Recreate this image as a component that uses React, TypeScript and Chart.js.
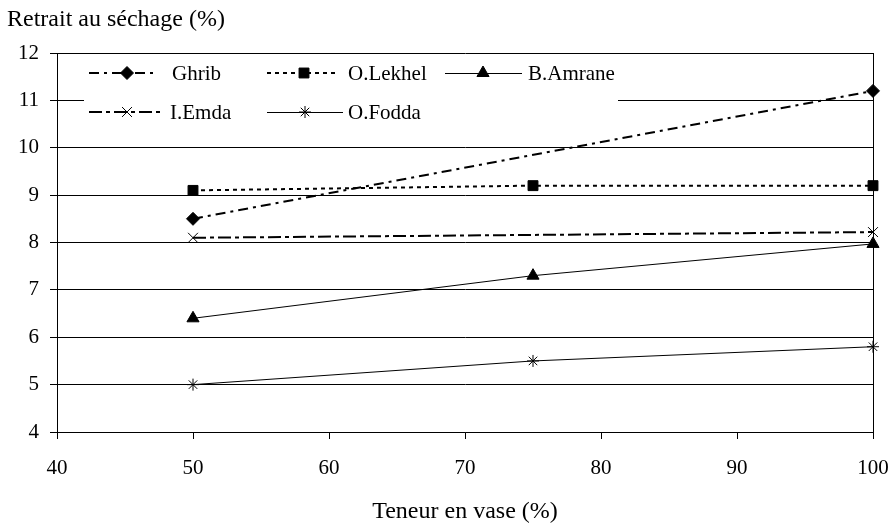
import React, { useEffect, useRef } from 'react';
import { Chart, registerables } from 'chart.js';
import { drawPoint } from 'chart.js/helpers';

Chart.register(...registerables);

const yTitle = 'Retrait au séchage (%)';
const xTitle = 'Teneur en vase (%)';

const seriesNames = ['Ghrib', 'O.Lekhel', 'B.Amrane', 'I.Emda', 'O.Fodda'];

const ghribX = [50, 100];
const ghribY = [8.5, 11.2];
const lekhelX = [50, 75, 100];
const lekhelY = [9.1, 9.2, 9.2];
const amraneX = [50, 75, 100];
const amraneY = [6.4, 7.3, 7.97];
const emdaX = [50, 100];
const emdaY = [8.1, 8.22];
const foddaX = [50, 75, 100];
const foddaY = [5.0, 5.5, 5.8];

const xMin = 40, xMax = 100, xStep = 10;
const yMin = 4, yMax = 12, yStep = 1;

const FONT = '"Liberation Serif", "Times New Roman", serif';

const styles = [
  { pointStyle: 'rectRot', radius: 6.5, width: 2, dash: [10, 5, 3, 5] },
  { pointStyle: 'rect', radius: 7, width: 2, dash: [4, 4] },
  { pointStyle: 'triangle', radius: 7, width: 1, dash: [] as number[] },
  { pointStyle: 'crossRot', radius: 7, width: 2, dash: [13, 4, 4, 4] },
  { pointStyle: 'star', radius: 6, width: 1, dash: [] as number[] },
];

const toPts = (xs: number[], ys: number[]) => xs.map((x, i) => ({ x, y: ys[i] }));

const legendItems = [
  { idx: 0, x1: 89, x2: 158, px: 127, tx: 172, y: 73 },
  { idx: 1, x1: 267, x2: 339, px: 304, tx: 348, y: 73 },
  { idx: 2, x1: 445, x2: 522, px: 483, tx: 528, y: 73 },
  { idx: 3, x1: 89, x2: 161, px: 127, tx: 170, y: 112 },
  { idx: 4, x1: 267, x2: 343, px: 305, tx: 348, y: 112 },
];

const decorPlugin = {
  id: 'decor',
  afterDraw(chart: any) {
    const ctx = chart.ctx as CanvasRenderingContext2D;
    const ca = chart.chartArea;
    ctx.save();
    // right border
    ctx.strokeStyle = '#000';
    ctx.lineWidth = 1;
    ctx.setLineDash([]);
    ctx.beginPath();
    ctx.moveTo(Math.round(ca.right) + 0.5, ca.top);
    ctx.lineTo(Math.round(ca.right) + 0.5, ca.bottom);
    ctx.stroke();
    // titles
    ctx.fillStyle = '#000';
    ctx.font = `24px ${FONT}`;
    ctx.textBaseline = 'alphabetic';
    ctx.textAlign = 'left';
    ctx.fillText(yTitle, 7, 26);
    ctx.textAlign = 'center';
    ctx.fillText(xTitle, (ca.left + ca.right) / 2, 518);
    // legend
    ctx.fillStyle = '#fff';
    ctx.fillRect(84, 58, 534, 70);
    legendItems.forEach((it) => {
      const st = styles[it.idx];
      ctx.strokeStyle = '#000';
      ctx.fillStyle = '#000';
      ctx.lineWidth = st.width;
      ctx.setLineDash(st.dash);
      const ly = st.width % 2 === 1 ? it.y + 0.5 : it.y;
      ctx.beginPath();
      ctx.moveTo(it.x1, ly);
      ctx.lineTo(it.x2, ly);
      ctx.stroke();
      ctx.setLineDash([]);
      ctx.lineWidth = 1;
      drawPoint(ctx, { pointStyle: st.pointStyle, radius: st.radius, rotation: 0, borderWidth: 1 } as any, it.px, it.y);
      ctx.fillStyle = '#000';
      ctx.font = `21px ${FONT}`;
      ctx.textAlign = 'left';
      ctx.textBaseline = 'middle';
      ctx.fillText(seriesNames[it.idx], it.tx, it.y + 1);
    });
    ctx.restore();
  },
};

export default function App() {
  const ref = useRef<HTMLCanvasElement | null>(null);
  useEffect(() => {
    if (!ref.current) return;
    const datas = [
      toPts(ghribX, ghribY),
      toPts(lekhelX, lekhelY),
      toPts(amraneX, amraneY),
      toPts(emdaX, emdaY),
      toPts(foddaX, foddaY),
    ];
    const chart = new Chart(ref.current, {
      type: 'line',
      data: {
        datasets: datas.map((d, i) => ({
          label: seriesNames[i],
          data: d,
          borderColor: '#000',
          backgroundColor: '#000',
          borderWidth: styles[i].width,
          borderDash: styles[i].dash,
          pointStyle: styles[i].pointStyle as any,
          pointRadius: styles[i].radius,
          pointBorderWidth: 1,
          pointBorderColor: '#000',
          pointBackgroundColor: '#000',
          tension: 0,
          fill: false,
          clip: false as any,
        })),
      },
      options: {
        responsive: false,
        animation: false,
        events: [],
        layout: { padding: { top: 53, right: 20, left: 0, bottom: 0 } },
        plugins: {
          legend: { display: false },
          title: { display: false },
          tooltip: { enabled: false },
        },
        scales: {
          x: {
            type: 'linear',
            min: xMin,
            max: xMax,
            ticks: { stepSize: xStep, color: '#000', font: { family: FONT, size: 21 }, padding: 17, maxRotation: 0 },
            grid: { display: true, drawOnChartArea: false, drawTicks: true, tickLength: 7, color: '#000', lineWidth: 1 },
            border: { display: true, color: '#000', width: 1 },
            afterFit: (s: any) => { s.height = 94; s.paddingLeft = 0; s.paddingRight = 0; },
          },
          y: {
            type: 'linear',
            min: yMin,
            max: yMax,
            ticks: { stepSize: yStep, color: '#000', font: { family: FONT, size: 21 }, padding: 11 },
            grid: { display: true, drawTicks: true, tickLength: 7, color: '#000', lineWidth: 1 },
            border: { display: true, color: '#000', width: 1 },
            afterFit: (s: any) => { s.width = 57; s.paddingTop = 0; s.paddingBottom = 0; },
          },
        },
      },
      plugins: [decorPlugin],
    });
    return () => chart.destroy();
  }, []);
  return (
    <div style={{ position: 'absolute', left: 0, top: 0, width: 893, height: 526, background: '#fff' }}>
      <canvas ref={ref} width={893} height={526} style={{ display: 'block' }} />
    </div>
  );
}
